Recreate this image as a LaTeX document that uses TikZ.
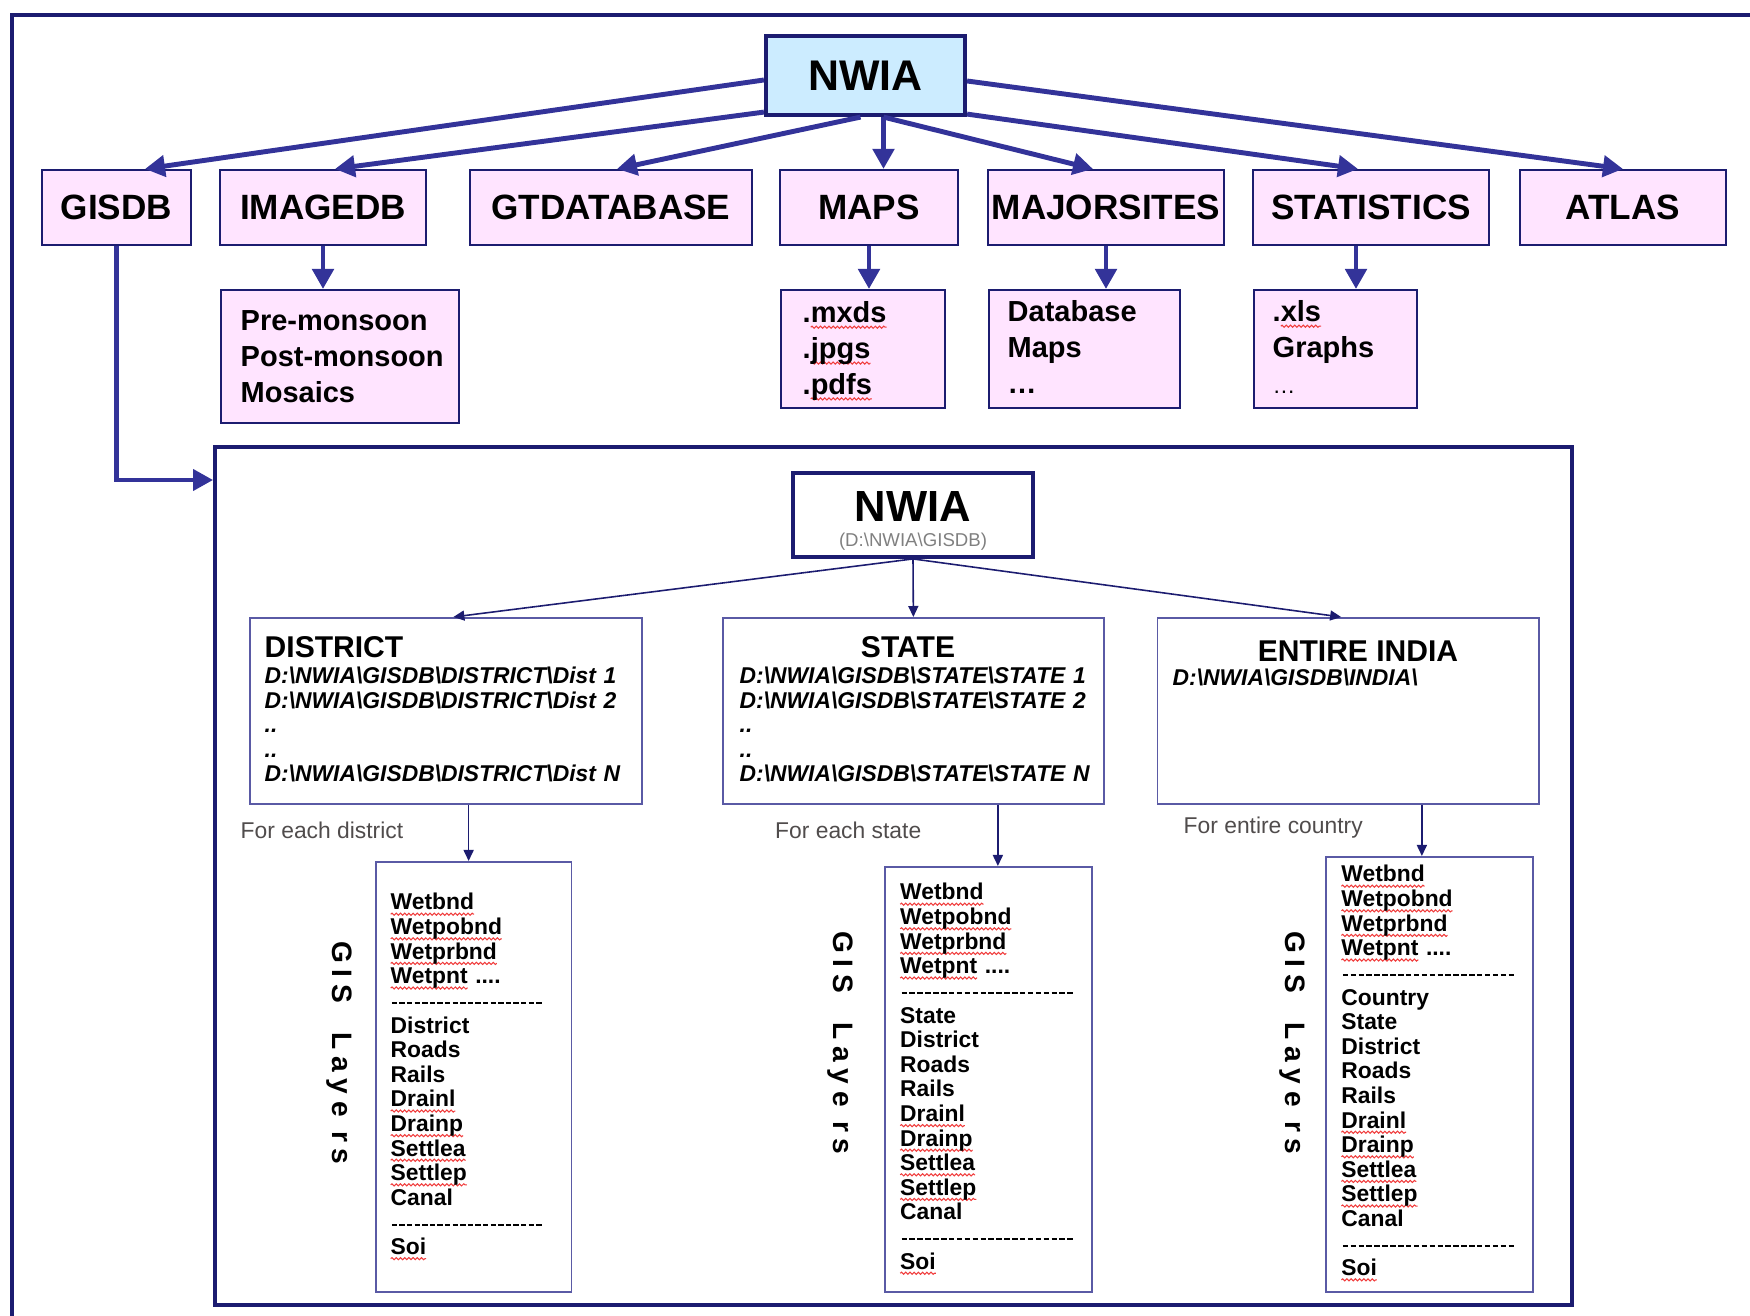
\documentclass[tikz,border=0pt]{standalone}
\usepackage{fontspec}
\setmainfont{Liberation Sans}
\usetikzlibrary{arrows.meta,decorations.pathmorphing}

\definecolor{navy}{RGB}{28,28,112}
\definecolor{arrowblue}{RGB}{51,51,153}
\definecolor{boxpink}{RGB}{255,228,255}
\definecolor{nwiablue}{RGB}{204,236,255}
\definecolor{thinnavy}{RGB}{90,90,165}
\definecolor{notegray}{RGB}{80,76,76}
\definecolor{spellred}{RGB}{240,60,60}

\newcommand\bs{\textbackslash}
% red spell-check wave under a word
\newsavebox\spellbox
\newcommand\spell[1]{\leavevmode\sbox\spellbox{#1}\edef\spellwd{\the\wd\spellbox}%
  \rlap{\tikz[overlay]\draw[spellred,line width=0.3pt,decorate,
    decoration={snake,amplitude=0.3pt,segment length=1.2pt}]
    (0pt,-1.2pt) -- (\spellwd,-1.2pt);}\usebox\spellbox}
% row of hyphens
\newcommand\dashrow[1]{\leavevmode\xleaders\hbox to 0.76mm{\hss\rule[0.4mm]{0.55mm}{0.2mm}\hss}\hskip #1\relax\null}

\tikzset{
  topbox/.style={draw=navy, line width=0.6pt, fill=boxpink, inner sep=0pt,
    minimum height=7.5mm, font=\fontsize{10pt}{12pt}\selectfont\bfseries},
  subbox/.style={draw=navy, line width=0.6pt, fill=boxpink, inner sep=0pt, anchor=north west},
  subtext/.style={anchor=base west, align=left, text width=22mm, inner sep=0pt,
    font=\fontsize{8.25pt}{10.2pt}\selectfont\bfseries},
  bigarrow/.style={draw=arrowblue, line width=1.4pt, -{Triangle[width=2.1mm,length=2mm]}},
  levelbox/.style={draw=thinnavy, line width=0.5pt, inner sep=0pt, anchor=north west},
  leveltitle/.style={inner sep=0pt, font=\fontsize{8.55pt}{10pt}\selectfont\bfseries},
  pathtext/.style={anchor=base west, align=left, text width=37mm, inner sep=0pt,
    font=\fontsize{6.5pt}{6.97pt}\selectfont\bfseries\itshape},
  note/.style={anchor=base west, inner sep=0pt, text=notegray,
    font=\fontsize{6.5pt}{8pt}\selectfont},
  thinarrow/.style={draw=navy, line width=0.45pt, -{Triangle[width=1mm,length=1.1mm]}},
  layertext/.style={anchor=base west, align=left, text width=18mm, inner sep=0pt,
    font=\fontsize{6.5pt}{7pt}\selectfont\bfseries},
  layerlabel/.style={rotate=-90, inner sep=0pt,
    font=\fontsize{8pt}{10pt}\selectfont\bfseries\addfontfeature{LetterSpace=24}},
}

\begin{document}
\begin{tikzpicture}[x=0.1mm, y=-0.1mm]
\useasboundingbox (0,0) rectangle (1750,1316);

% Outer frame
\draw[navy, line width=1.1pt] (12,1316) -- (12,15) -- (1750,15);

% NWIA and its databases
\node[draw=navy, line width=1.2pt, fill=nwiablue, inner sep=0pt, minimum width=19.9mm,
  minimum height=7.9mm, font=\fontsize{12.2pt}{14pt}\selectfont\bfseries] (nwia) at (865.5,75.5) {NWIA};

\node[topbox, minimum width=14.9mm] (gisdb) at (116.5,207.5) {GISDB};
\node[topbox, minimum width=20.6mm] (imagedb) at (323,207.5) {IMAGEDB};
\node[topbox, minimum width=28.2mm] (gtdb) at (611,207.5) {GTDATABASE};
\node[topbox, minimum width=17.8mm] (maps) at (869,207.5) {MAPS};
\node[topbox, minimum width=23.6mm] (majorsites) at (1106,207.5) {MAJORSITES};
\node[topbox, minimum width=23.6mm] (statistics) at (1371,207.5) {STATISTICS};
\node[topbox, minimum width=20.6mm] (atlas) at (1623,207.5) {ATLAS};

% Arrows from NWIA
\draw[bigarrow] ([yshift=-0.45mm]nwia.west) -- ([xshift=2.85mm]gisdb.north);
\draw[bigarrow] ([yshift=0.5mm]nwia.south west) -- ([xshift=1.2mm]imagedb.north);
\draw[bigarrow] ([xshift=-0.5mm]nwia.south) -- ([xshift=0.6mm]gtdb.north);
\draw[bigarrow] ([xshift=1.8mm]nwia.south) -- ([xshift=1.8mm]nwia.south |- maps.north);
\draw[bigarrow] ([xshift=1.8mm]nwia.south) -- ([xshift=-1.3mm]majorsites.north);
\draw[bigarrow] ([yshift=0.3mm]nwia.south east) -- ([xshift=-1.3mm]statistics.north);
\draw[bigarrow] ([yshift=-0.55mm]nwia.east) -- (atlas.north);

% Contents of the databases
\node[subbox, minimum width=23.8mm, minimum height=13.3mm] (premon) at (220,289) {};
\node[subbox, minimum width=16.4mm, minimum height=11.8mm] (mxds) at (780,289) {};
\node[subbox, minimum width=19.1mm, minimum height=11.8mm] (dbase) at (988,289) {};
\node[subbox, minimum width=16.3mm, minimum height=11.8mm] (xls) at (1253,289) {};

\node[subtext] (premontext) at (240,331) {Pre-monsoon\\Post-monsoon\\Mosaics};
\node[subtext] (mxdstext) at (802,323) {.\spell{mxds}\\.\spell{jpgs}\\.\spell{pdfs}};
\node[subtext] (dbasetext) at (1007,322) {Database\\Maps\\\ldots};
\node[subtext] (xlstext) at (1272,322) {.\spell{xls}\\Graphs\\{\mdseries\fontsize{6.5pt}{7pt}\selectfont\ldots}};

\draw[bigarrow] (imagedb.south) -- (imagedb.south |- premon.north);
\draw[bigarrow] (maps.south) -- (maps.south |- mxds.north);
\draw[bigarrow] (majorsites.south) -- (majorsites.south |- dbase.north);
\draw[bigarrow] ([xshift=-1.5mm]statistics.south) -- ([xshift=-1.5mm]statistics.south |- xls.north);

% GISDB folder structure
\node[draw=navy, line width=1.1pt, inner sep=0pt, anchor=north west, minimum width=135.7mm,
  minimum height=85.8mm] (gisframe) at (213,445) {};
\coordinate (gisin) at (213,480);
\draw[bigarrow, line width=1.2pt] (gisdb.south) |- (gisin);

\node[draw=navy, line width=1.1pt, inner sep=0pt, minimum width=24mm, minimum height=8.4mm] (gnwia) at (913,515) {};
\node[anchor=base, inner sep=0pt, font=\fontsize{12.4pt}{14pt}\selectfont\bfseries] (gnwiatitle) at (913,522) {NWIA};
\node[anchor=base, inner sep=0pt, text=gray, font=\fontsize{5.3pt}{6pt}\selectfont] (gnwiapath) at (913,547) {(D:\bs NWIA\bs GISDB)};

% District, state, entire India
\node[levelbox, minimum width=39.2mm, minimum height=18.6mm] (district) at (249,617) {};
\node[levelbox, minimum width=38.1mm, minimum height=18.6mm] (state) at (722,617) {};
\node[levelbox, minimum width=38.15mm, minimum height=18.6mm] (india) at (1156.5,617) {};

\draw[thinarrow] (gnwia.south) -- ([xshift=0.75mm]district.north);
\draw[thinarrow] (gnwia.south) -- (state.north);
\draw[thinarrow] (gnwia.south) -- ([xshift=-0.7mm]india.north);

\node[leveltitle, anchor=base west] (disttitle) at (264,658) {DISTRICT};
\node[pathtext] (distpaths) at (264,684) {D:\bs NWIA\bs GISDB\bs DISTRICT\bs Dist 1\\
  D:\bs NWIA\bs GISDB\bs DISTRICT\bs Dist 2\\..\\..\\D:\bs NWIA\bs GISDB\bs DISTRICT\bs Dist N};
\node[leveltitle, anchor=base] (statetitle) at (908,658) {STATE};
\node[pathtext] (statepaths) at (739,684) {D:\bs NWIA\bs GISDB\bs STATE\bs STATE 1\\
  D:\bs NWIA\bs GISDB\bs STATE\bs STATE 2\\..\\..\\D:\bs NWIA\bs GISDB\bs STATE\bs STATE N};
\node[leveltitle, anchor=base] (indiatitle) at (1358,662) {ENTIRE INDIA};
\node[pathtext] (indiapath) at (1172,686) {D:\bs NWIA\bs GISDB\bs INDIA\bs};

\node[note] (distnote) at (240,839) {For each district};
\node[note] (statenote) at (774.5,839) {For each state};
\node[note] (indianote) at (1183,834) {For entire country};

% GIS layers
\node[levelbox, minimum width=19.55mm, minimum height=43mm] (dlayers) at (375,861) {};
\node[levelbox, minimum width=20.7mm, minimum height=42.5mm] (slayers) at (884,866) {};
\node[levelbox, minimum width=20.7mm, minimum height=43.5mm] (ilayers) at (1325,856) {};

\draw[thinarrow] ([xshift=-0.5mm]dlayers.north |- district.south) -- ([xshift=-0.5mm]dlayers.north);
\draw[thinarrow] ([xshift=0.95mm]slayers.north |- state.south) -- ([xshift=0.95mm]slayers.north);
\draw[thinarrow] ([xshift=-0.75mm]ilayers.north |- india.south) -- ([xshift=-0.75mm]ilayers.north);

\node[layertext] (dlist) at (390,910) {\spell{Wetbnd}\\\spell{Wetpobnd}\\\spell{Wetprbnd}\\\spell{Wetpnt} ....\\
  \dashrow{15.2mm}\\District\\Roads\\Rails\\\spell{Drainl}\\\spell{Drainp}\\\spell{Settlea}\\\spell{Settlep}\\Canal\\
  \dashrow{15.2mm}\\\spell{Soi}};
\node[layertext] (slist) at (899.5,900) {\spell{Wetbnd}\\\spell{Wetpobnd}\\\spell{Wetprbnd}\\\spell{Wetpnt} ....\\
  \dashrow{17.4mm}\\State\\District\\Roads\\Rails\\\spell{Drainl}\\\spell{Drainp}\\\spell{Settlea}\\\spell{Settlep}\\Canal\\
  \dashrow{17.4mm}\\\spell{Soi}};
\node[layertext] (ilist) at (1340.7,882) {\spell{Wetbnd}\\\spell{Wetpobnd}\\\spell{Wetprbnd}\\\spell{Wetpnt} ....\\
  \dashrow{17.4mm}\\Country\\State\\District\\Roads\\Rails\\\spell{Drainl}\\\spell{Drainp}\\\spell{Settlea}\\\spell{Settlep}\\Canal\\
  \dashrow{17.4mm}\\\spell{Soi}};

\node[layerlabel] (dlabel) at (339,1053) {GIS\ \ Laye rs};
\node[layerlabel] (slabel) at (840,1043) {GIS\ \ Laye rs};
\node[layerlabel] (ilabel) at (1292,1043) {GIS\ \ Laye rs};

\end{tikzpicture}
\end{document}
